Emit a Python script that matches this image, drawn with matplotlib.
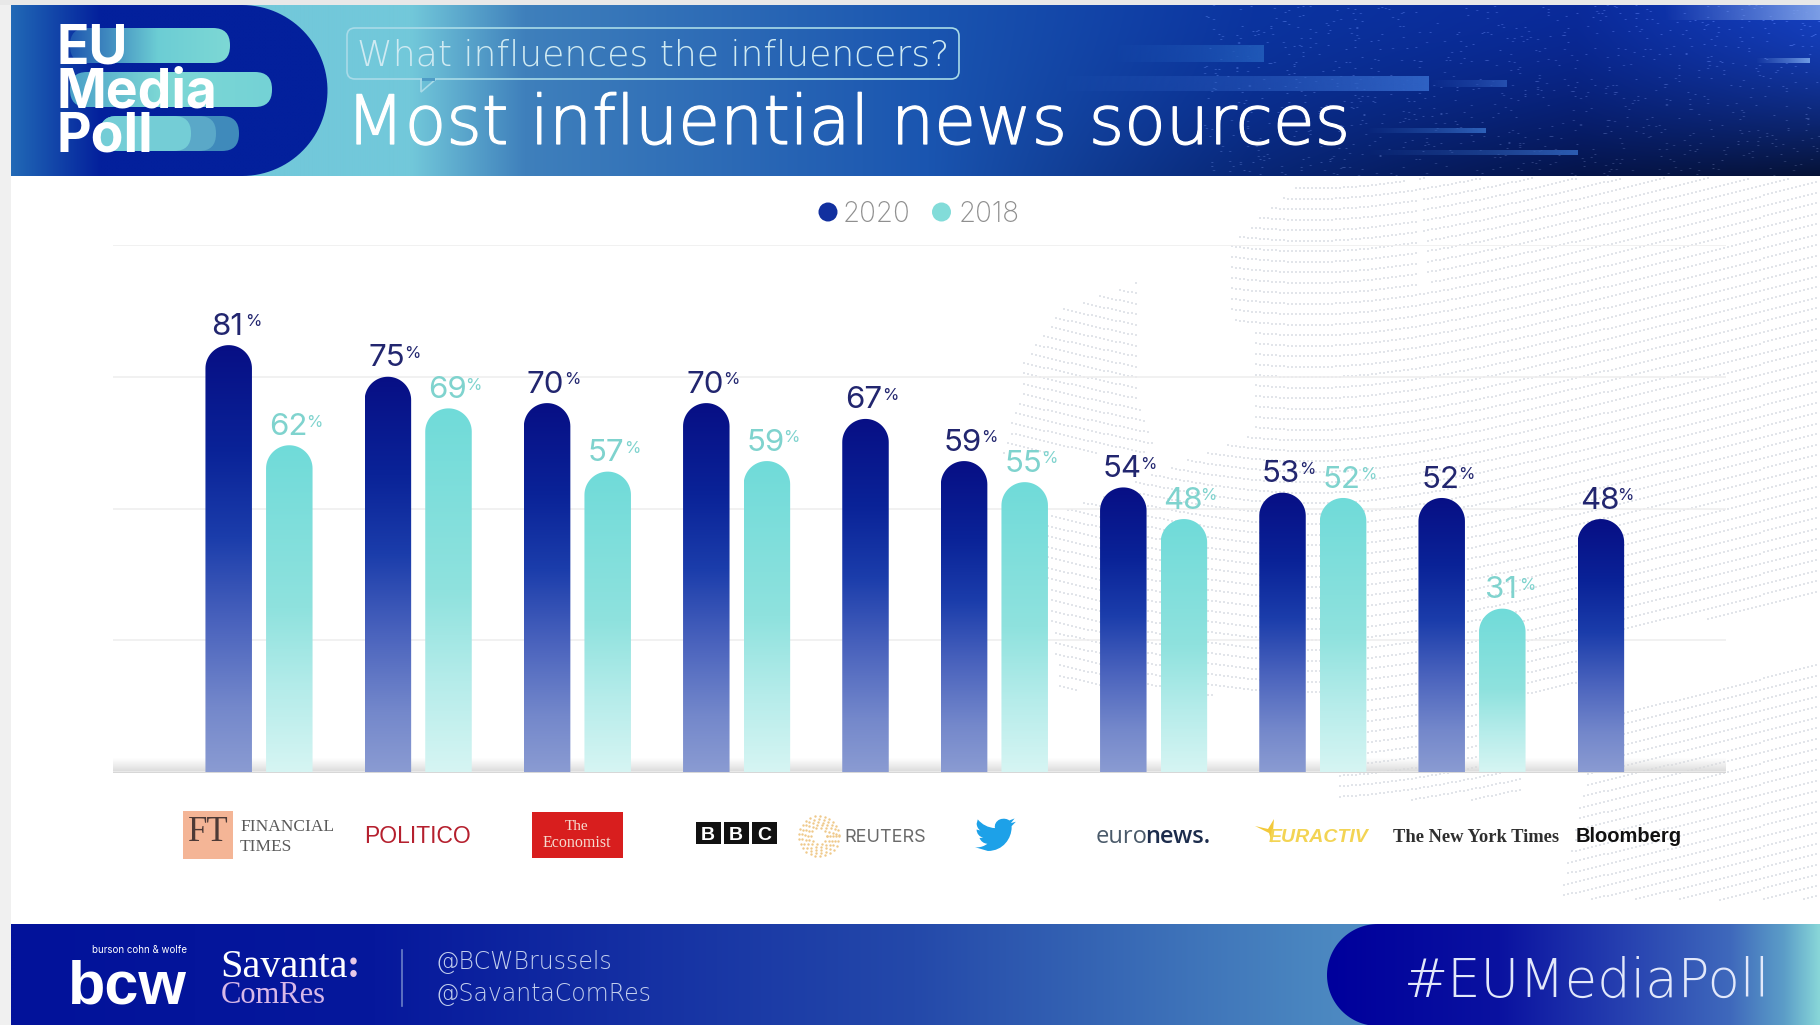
import numpy as np
import matplotlib
matplotlib.use("Agg")
import matplotlib.pyplot as plt
import matplotlib.colors as mcolors
import matplotlib.patheffects as pe
from matplotlib.patches import Circle, FancyBboxPatch, PathPatch, Polygon, Rectangle
from matplotlib.path import Path

# Poll results, share of respondents (%)
sources = ['Financial Times', 'Politico', 'The Economist', 'BBC', 'Reuters', 'Twitter',
           'Euronews', 'Euractiv', 'The New York Times', 'Bloomberg']
values_2020 = [81, 75, 70, 70, 67, 59, 54, 53, 52, 48]
values_2018 = [62, 69, 57, 59, None, 55, 48, 52, 31, None]

W, H = 1820, 1025
NAVY_TEXT = '#22266f'
TEAL_TEXT = '#7fd3ce'
SANS = 'Inter'
WIDE = 'DejaVu Sans'
SERIF = 'Liberation Serif'
ARIAL = 'Liberation Sans'

BAR_W = 46.5
PAIR_GAP = 60.6    # 2020 bar to its 2018 bar
GROUP_GAP = 98.6   # last bar of a group to the next 2020 bar

STOPS_2020 = [(0, '#070f85'), (.25, '#0a2398'), (.45, '#1b3dab'), (.65, '#4a63bd'), (.85, '#7488cb'), (1, '#8a9bd2')]
STOPS_2018 = [(0, '#70dbd9'), (.5, '#8fe2de'), (.75, '#b5ecea'), (1, '#d6f5f3')]


def ramp(stops, n=256):
    """RGBA ramp from (position, colour[, alpha]) stops."""
    pos = [s[0] for s in stops]
    rgba = np.array([mcolors.to_rgba(s[1], s[2] if len(s) > 2 else 1) for s in stops])
    t = np.linspace(0, 1, n)
    return np.stack([np.interp(t, pos, rgba[:, i]) for i in range(4)], axis=-1)


def gradient(axes, extent, stops, vertical=False, clip=None, zorder=1):
    """Draw a linear gradient over extent (x0, x1, y_low, y_high)."""
    img = ramp(stops)
    img = img[:, None, :] if vertical else img[None, :, :]
    im = axes.imshow(img, extent=extent, aspect='auto', interpolation='bilinear',
                     origin='upper', zorder=zorder)
    if clip is not None:
        im.set_clip_path(clip)
    return im


def bar_path(x, value, ry):
    """Bar outline with a semicircular cap, in data coordinates."""
    r = BAR_W / 2
    a = np.linspace(np.pi, 0, 40)
    top = value - ry
    xs = np.r_[x - r, x + r * np.cos(a), x + r]
    ys = np.r_[0, top + ry * np.sin(a), 0]
    return Path(np.column_stack([xs, ys]))


fig = plt.figure(figsize=(W / 100, H / 100), dpi=100, facecolor='white')

# full-size layer for everything around the plot, in pixel units
bg = fig.add_axes([0, 0, 1, 1], zorder=0)
bg.set_xlim(0, W)
bg.set_ylim(H, 0)
bg.axis('off')

# outer frame of the slide
bg.add_patch(Rectangle((0, 0), 11, H, fc='#f0f0f0', ec='none', zorder=0))
bg.add_patch(Rectangle((0, 0), W, 5, fc='#e8e8e8', ec='none', zorder=0))

# dotted globe behind the chart
land = [
    [(1021, 400), (1021, 365), (1060, 310), (1136, 282), (1140, 400), (1157, 453), (1000, 453)],
    [(1303, 181), (1418, 181), (1418, 290), (1440, 290), (1440, 400), (1590, 520), (1590, 690), (1523, 700),
     (1523, 800), (1340, 800), (1340, 700), (1060, 690), (1040, 520), (1256, 433), (1256, 333), (1230, 317), (1230, 243)],
    [(1418, 178), (1820, 178), (1820, 600), (1628, 633), (1590, 640), (1440, 400)],
    [(1620, 705), (1820, 660), (1820, 900), (1560, 900), (1590, 760)],
]
gx, gy = [], []
for y0 in np.arange(178, 1100, 10.5):
    xs = np.arange(1000, W, 4.0)
    ys = y0 - 40 * (np.sqrt(1 + ((xs - 1310) / 150) ** 2) - 1)
    gx.append(xs)
    gy.append(ys)
gx = np.concatenate(gx)
gy = np.concatenate(gy)
pts = np.column_stack([gx, gy])
mask = np.zeros(len(pts), dtype=bool)
for poly in land:
    mask |= Path(poly).contains_points(pts)
bg.scatter(gx[mask], gy[mask], s=4, marker='s', c='#e2e5ea', linewidths=0, zorder=1)

# header band, running behind the badge corners
hx = np.linspace(0, 1, 905)
hy = np.linspace(0, 1, 171)
stops_x = [0, .13, .2, .45, .65, .85, 1]
header = []
for c in zip(*[mcolors.to_rgb(k) for k in ['#72c8da', '#72c8da', '#3f80bc', '#1a55b0', '#0b34a0', '#0a2a9a', '#1540c0']]):
    header.append(np.interp(hx, stops_x, c))
header = np.stack(header, axis=-1)[None, :, :] * np.ones((171, 1, 1))
shade = 1 - np.outer(hy ** 1.5, np.clip((hx - .45) / .55, 0, 1)) * .72
header = header * shade[:, :, None]
# scattered light specks towards the right end
sx, sy = np.meshgrid(np.arange(905), np.arange(171))
speck = np.modf(np.sin(sx * 12.9898 + sy * 78.233) * 43758.5453)[0]
speck = (np.abs(speck) > .985) & (sx > 560)
header[speck] = np.clip(header[speck] + .16, 0, 1)
bg.imshow(header, extent=(200, 1820, 176, 5), aspect='auto', interpolation='bilinear', zorder=2)

# light streaks in the header
streaks = [(1110, 1264, 45, 62, '#2059b8'), (1052, 1429, 76, 91, '#2f62c4'), (1429, 1507, 80, 87, '#2650b0'),
           (1366, 1486, 128, 133, '#2e62ba'), (1366, 1578, 150, 155, '#2c5cb2'), (1756, 1810, 58, 63, '#6f9be4'),
           (1664, 1820, 5, 20, '#7c9ee6')]
for x0, x1, y0, y1, col in streaks:
    gradient(bg, (x0, x1, y1, y0), [(0, col, 0), (.6, col, .55), (1, col, 1)], zorder=3)

# logo badge on the left of the header
a = np.linspace(-np.pi / 2, np.pi / 2, 60)
badge = np.column_stack([np.r_[11, 242 + 85.5 * np.cos(a), 11], np.r_[5, 90.5 + 85.5 * np.sin(a), 176]])
badge_patch = Polygon(badge, closed=True, fc='none', ec='none', transform=bg.transData)
bg.add_patch(badge_patch)
gradient(bg, (11, 330, 176, 5), [(0, '#2169b6'), (.28, '#03209c'), (1, '#03209c')], clip=badge_patch, zorder=4)

p1 = FancyBboxPatch((70, 28), 160, 35, boxstyle='round,pad=0,rounding_size=17', fc='none', ec='none')
p2 = FancyBboxPatch((70, 72), 202, 35, boxstyle='round,pad=0,rounding_size=17', fc='none', ec='none')
bg.add_patch(p1)
bg.add_patch(p2)
gradient(bg, (70, 230, 63, 28), [(0, '#1f58b0'), (.55, '#6ccdd4'), (1, '#7dd8d5')], clip=p1, zorder=5)
gradient(bg, (70, 272, 107, 72), [(0, '#4aa0c8'), (.45, '#7dd8d5'), (1, '#74d2d6')], clip=p2, zorder=5)
for edge, col in [(239, '#3f8abb'), (216, '#5aa8c8'), (191, '#74cdd6')]:
    bg.add_patch(FancyBboxPatch((100, 116), edge - 100, 35, boxstyle='round,pad=0,rounding_size=17',
                                fc=col, ec='none', zorder=5))
for label, ypos in [('EU', 63), ('Media', 107), ('Poll', 151)]:
    bg.text(57, ypos, label, color='white', fontsize=38.5, fontweight='bold', family=SANS,
            va='baseline', ha='left', zorder=6)

# speech bubble and headings
bubble = FancyBboxPatch((347, 28), 612, 51, boxstyle='round,pad=0,rounding_size=8', fc='none',
                        ec='#a9dbe8', lw=1.2, zorder=6)
bg.add_patch(bubble)
bg.add_patch(Polygon([(421, 79), (421, 92), (436, 79)], closed=False, fc='none', ec='#a9dbe8', lw=1.2, zorder=6))
bg.add_patch(Rectangle((422, 77.5), 13, 3, fc='#4f9cc6', ec='none', zorder=6))
bg.text(357, 66, 'What influences the influencers?', color='#cfeaf2', fontsize=26, family=WIDE,
        fontweight=200, va='baseline', zorder=7)
title = bg.text(346, 144, 'Most influential news sources', color='white', fontsize=49, family=WIDE,
                fontweight=200, va='baseline', zorder=7)
title.set_path_effects([pe.withStroke(linewidth=0.9, foreground='white')])

# footer band
gradient(bg, (11, W, 1025, 924), [(0, '#02129a'), (.2, '#06189c'), (.5, '#2449aa'), (.72, '#4a86c0'), (.82, '#5b99c9'), (1, '#5b99c9')], zorder=2)
a = np.linspace(-np.pi / 2, -3 * np.pi / 2, 60)
pill = np.column_stack([np.r_[W, 1378 + 51 * np.cos(a), W], np.r_[924, 975 + 51 * np.sin(a), 1026]])
pill_patch = Polygon(pill, closed=True, fc='none', ec='none')
bg.add_patch(pill_patch)
gradient(bg, (1327, W, 1025, 924), [(0, '#00009c'), (.35, '#0a12a0'), (.6, '#2640b0'), (.82, '#3f69bc'), (.93, '#5c9ec8'), (1, '#88d6d8')],
         clip=pill_patch, zorder=3)
bg.text(1404, 997, '#EUMediaPoll', color='#e2e8fa', fontsize=38, family=WIDE, fontweight=200, zorder=4)

bg.text(68, 1003, 'bcw', color='white', fontsize=44, fontweight='bold', family=ARIAL, zorder=4)
bg.text(92, 953, 'burson cohn & wolfe', color='white', fontsize=7, family=SANS, zorder=4)
bg.text(220, 977, 'Savanta', color='white', fontsize=29, family=SERIF, zorder=4)
bg.text(347, 977, ':', color='#e8c8e8', fontsize=29, family=SERIF, fontweight='bold', zorder=4)
bg.text(221, 1003, 'ComRes', color='#d8b8e8', fontsize=22, family=SERIF, zorder=4)
bg.plot([401.5, 401.5], [950, 1006], color='#6a7fc8', lw=1.2, zorder=4)
bg.text(436, 969, '@BCWBrussels', color='#c3cfee', fontsize=17, family=WIDE, fontweight=200, zorder=4)
bg.text(436, 1001, '@SavantaComRes', color='#c3cfee', fontsize=17, family=WIDE, fontweight=200, zorder=4)

# legend
bg.add_patch(Circle((828, 212), 9.5, fc='#12309f', ec='none', zorder=4))
bg.add_patch(Circle((941.5, 212), 9.5, fc='#82dcd9', ec='none', zorder=4))
bg.text(843, 222, '2020', color='#8f8f8f', fontsize=20, family=SANS, fontweight='light', zorder=4)
bg.text(959, 222, '2018', color='#8f8f8f', fontsize=20, family=SANS, fontweight='light', zorder=4)

# soft shadow along the baseline
gradient(bg, (113, 1726, 773, 758), [(0, '#dddddd', 0), (1, '#d6d6d6', 1)], vertical=True, zorder=2)

# publication names under the bars
bg.add_patch(Rectangle((183, 811), 50, 48, fc='#f4b596', ec='none', zorder=4))
bg.text(208, 841, 'FT', color='#4d3a36', fontsize=25, family=SERIF, ha='center', zorder=5)
bg.text(240, 831, 'FINANCIAL', color='#5a5a5a', fontsize=12.5, family=SERIF, zorder=5)
bg.text(240, 851, 'TIMES', color='#5a5a5a', fontsize=12.5, family=SERIF, zorder=5)
bg.text(364, 843, 'POLITICO', color='#b5202e', fontsize=16.5, family=ARIAL, zorder=5)
bg.add_patch(Rectangle((532, 812), 91, 46, fc='#d81e1e', ec='none', zorder=4))
bg.text(577, 830, 'The', color='#f6dcd0', fontsize=11, family=SERIF, ha='center', zorder=5)
bg.text(577, 847, 'Economist', color='#f6dcd0', fontsize=11.5, family=SERIF, ha='center', zorder=5)
for bx, letter in zip([696, 724, 752], 'BBC'):
    bg.add_patch(Rectangle((bx, 822), 24.5, 22, fc='#111111', ec='none', zorder=4))
    bg.text(bx + 12.2, 840, letter, color='white', fontsize=14, fontweight='bold', family=ARIAL,
            ha='center', zorder=5)

# Reuters dotted ring
ring_r = [8, 11, 14, 17, 20]
for r in ring_r:
    t = np.arange(0, 2 * np.pi, 7.0 / r / 1.4)
    bg.scatter(819 + r * np.cos(t), 836 + r * np.sin(t), s=3, c='#efc98a', linewidths=0, zorder=4)
bg.text(844, 842, 'REUTERS', color='#6a6a6a', fontsize=13, family=SANS, zorder=5)

# Twitter bird, drawn in a 24-unit box
bird_verts = [(23.95, 4.57), (21.13, 5.35), (23.29, 2.62), (20.16, 3.81),
              (19.2, 2.9), (16.8, 2.3), (14.6, 3.2), (12.4, 4.1), (11.2, 6.4), (11.78, 8.29),
              (7.69, 8.1), (4.07, 6.13), (1.64, 3.16), (0.97, 5.64), (1.0, 7.4), (1.9, 8.9), (3.16, 9.73),
              (0.93, 9.12), (0.93, 9.18), (1.0, 11.6), (2.6, 13.4), (4.88, 14.0), (2.66, 14.09),
              (3.4, 16.1), (5.2, 17.4), (7.27, 17.5), (5.5, 18.9), (3.4, 19.6), (1.17, 19.61), (0, 19.54),
              (7.56, 21.75), (16.6, 21.75), (21.55, 14.25), (21.55, 7.77), (21.54, 7.14), (24, 4.59), (23.95, 4.57)]
bird_codes = [Path.MOVETO, Path.LINETO, Path.LINETO, Path.LINETO,
              Path.CURVE4, Path.CURVE4, Path.CURVE4, Path.CURVE4, Path.CURVE4, Path.CURVE4,
              Path.CURVE4, Path.CURVE4, Path.CURVE4, Path.LINETO, Path.CURVE4, Path.CURVE4, Path.CURVE4,
              Path.LINETO, Path.LINETO, Path.CURVE4, Path.CURVE4, Path.CURVE4, Path.LINETO,
              Path.CURVE4, Path.CURVE4, Path.CURVE4, Path.CURVE4, Path.CURVE4, Path.CURVE4, Path.LINETO,
              Path.LINETO, Path.CURVE4, Path.CURVE4, Path.CURVE4, Path.LINETO, Path.LINETO, Path.CLOSEPOLY]
bird = np.array(bird_verts) * [1.7, 1.7] + [975, 814]
bg.add_patch(PathPatch(Path(bird, bird_codes), fc='#1da1e8', ec='none', zorder=4))

bg.text(1096, 843, 'euro', color='#4a5a6a', fontsize=17, family='Open Sans', zorder=5)
bg.text(1145, 843, 'news.', color='#1c2c4c', fontsize=17, family='Open Sans', fontweight='semibold', zorder=5)
bg.add_patch(Polygon([(1255, 826), (1268, 829), (1274, 819), (1272, 843), (1269, 833)], closed=True,
                     fc='#f3c93a', ec='none', zorder=4))
bg.text(1269, 842, 'EURACTIV', color='#f3d454', fontsize=14, family=ARIAL, fontweight='bold',
        fontstyle='italic', zorder=5)
bg.text(1393, 842, 'The New York Times', color='#2f2f2f', fontsize=13.3, family=SERIF, fontweight='bold', zorder=5)
bg.text(1576, 842, 'Bloomberg', color='#111111', fontsize=14.5, family=ARIAL, fontweight='bold', zorder=5)

# plot area: x runs in pixels so bar spacing stays simple, y is the percentage
ax = fig.add_axes([113 / W, 1 - 772 / H, (1726 - 113) / W, (772 - 245) / H], zorder=1)
ax.patch.set_alpha(0)
ax.set_xlim(113, 1726)
ax.set_ylim(0, 100)
ax.set_yticks([0, 25, 50, 75, 100])
ax.grid(axis='y', color='#eeeeee', lw=1.1)
ax.set_axisbelow(True)
ax.tick_params(length=0, labelbottom=False, labelleft=False)
for s in ax.spines.values():
    s.set_visible(False)

ry = (BAR_W / 2) / ((772 - 245) / 100)


def draw_bar(x, value, stops, colour):
    outline = PathPatch(bar_path(x, value, ry), fc='none', ec='none')
    ax.add_patch(outline)
    gradient(ax, (x - BAR_W / 2, x + BAR_W / 2, 0, value), stops, vertical=True, clip=outline, zorder=3)
    ax.annotate(str(value), (x, value), xytext=(-1, 7.5), textcoords='offset points', ha='center', va='baseline',
                color=colour, fontsize=22.5, family=SANS, zorder=5)
    ax.annotate('%', (x, value), xytext=(12, 13.5), textcoords='offset points', ha='left', va='baseline',
                color=colour, fontsize=12, family=SANS, zorder=5)


x = 228.7
for v20, v18 in zip(values_2020, values_2018):
    draw_bar(x, v20, STOPS_2020, NAVY_TEXT)
    if v18 is not None:
        x += PAIR_GAP
        draw_bar(x, v18, STOPS_2018, TEAL_TEXT)
    x += GROUP_GAP

ax.set_xlim(113, 1726)
ax.set_ylim(0, 100)
bg.set_xlim(0, W)
bg.set_ylim(H, 0)

fig.savefig('out.png', dpi=100)
